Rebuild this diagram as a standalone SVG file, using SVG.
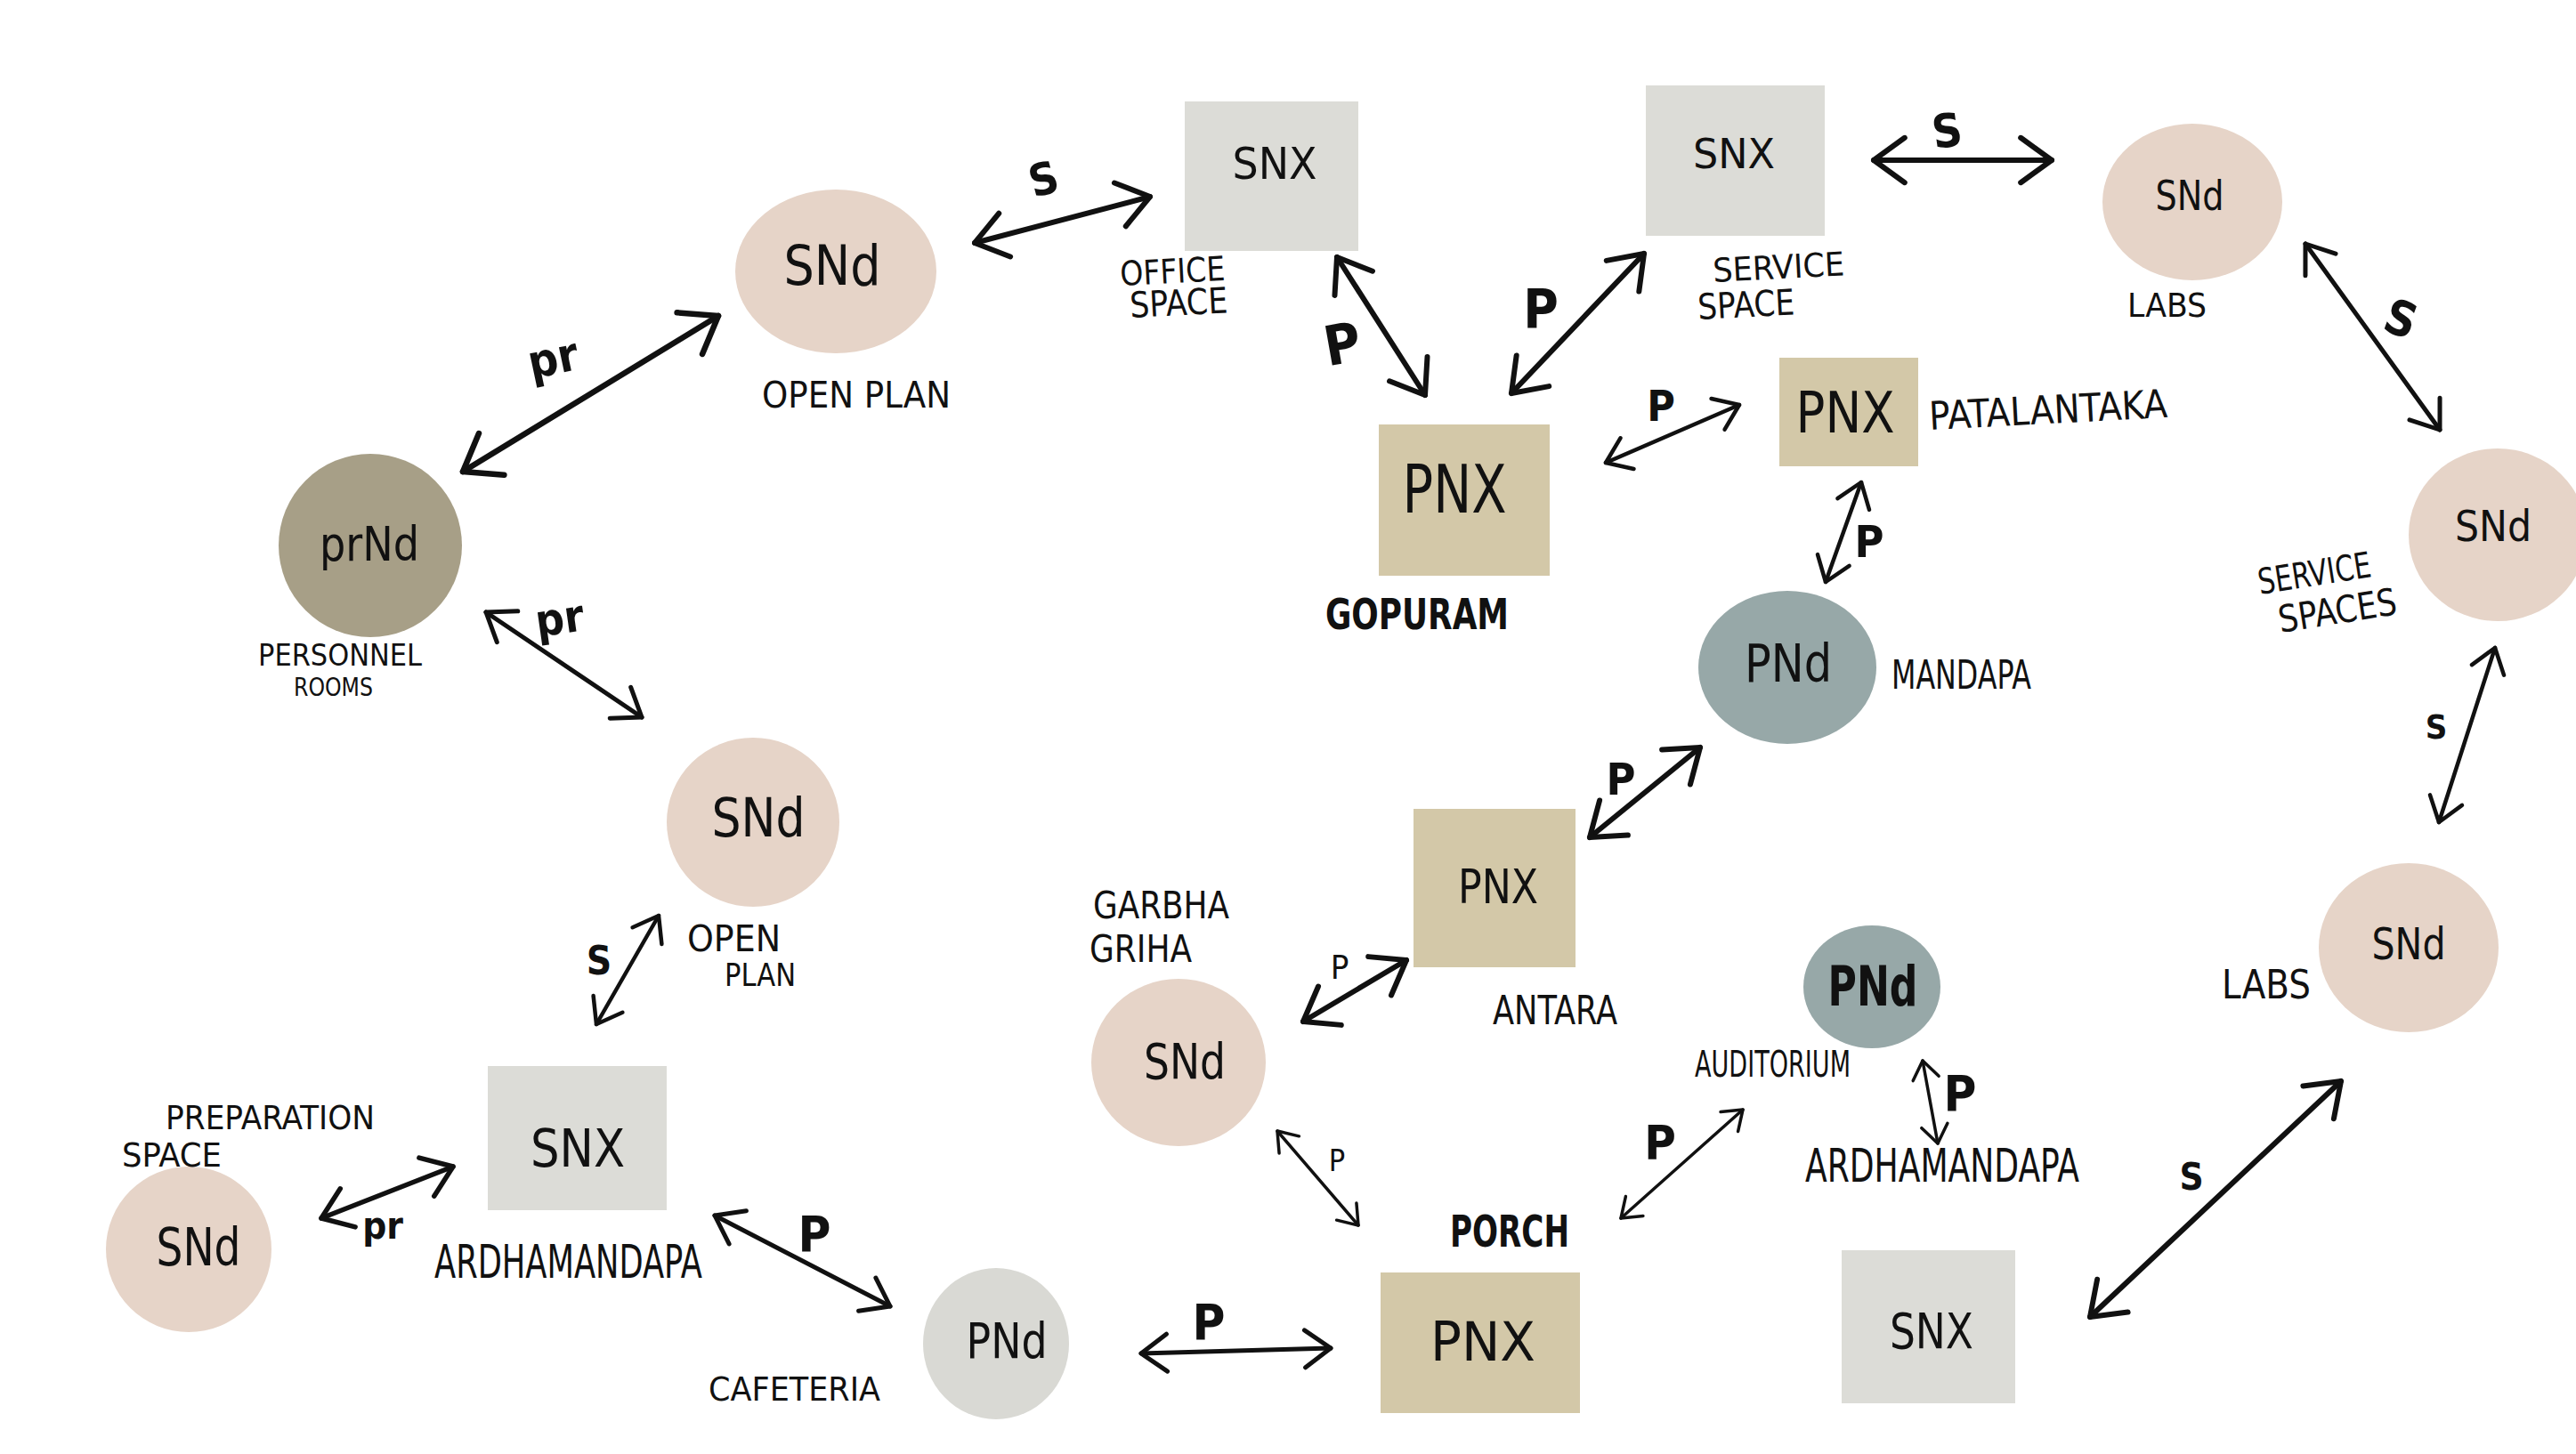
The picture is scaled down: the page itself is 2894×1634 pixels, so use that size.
<svg xmlns="http://www.w3.org/2000/svg" width="2894" height="1634" viewBox="0 0 2894 1634">
<style>
.sand{fill:#e6d4c8}
.olive{fill:#a79f87}
.grey{fill:#dcdcd7}
.tan{fill:#d3c8a8}
.blue{fill:#97a8a8}
.cafe{fill:#d9d9d4}
text{font-family:"Liberation Sans Narrow","DejaVu Sans Condensed","Liberation Sans",sans-serif;fill:#111}
.t{text-anchor:middle}
.l{text-anchor:start}
.b{font-weight:bold}
.c{stroke:#111;fill:none;stroke-linecap:round;marker-start:url(#ah);marker-end:url(#ah)}
</style>
<defs>
<marker id="ah" markerUnits="strokeWidth" markerWidth="14" markerHeight="14" refX="0" refY="0" orient="auto-start-reverse" overflow="visible">
<path d="M-5.8,-4.2 L0,0 L-5.8,4.2" fill="none" stroke="#111" stroke-width="1" stroke-linecap="round" stroke-linejoin="round"/>
</marker>
</defs>
<rect width="2894" height="1634" fill="#ffffff"/>

<g id="connectors">
<line class="c" x1="520" y1="530" x2="807" y2="355" stroke-width="6.5"/>
<line class="c" x1="546" y1="688" x2="721" y2="806" stroke-width="5"/>
<line class="c" x1="1095" y1="273" x2="1292" y2="221" stroke-width="6"/>
<line class="c" x1="1502" y1="289" x2="1601" y2="444" stroke-width="6"/>
<line class="c" x1="1698" y1="442" x2="1847" y2="285" stroke-width="6"/>
<line class="c" x1="2105" y1="180" x2="2305" y2="180" stroke-width="6"/>
<line class="c" x1="1804" y1="520" x2="1954" y2="455" stroke-width="4.5"/>
<line class="c" x1="2091" y1="542" x2="2051" y2="654" stroke-width="4.5"/>
<line class="c" x1="2590" y1="274" x2="2741" y2="483" stroke-width="5"/>
<line class="c" x1="2803" y1="728" x2="2740" y2="924" stroke-width="4.5"/>
<line class="c" x1="1786" y1="941" x2="1910" y2="840" stroke-width="6"/>
<line class="c" x1="1464" y1="1148" x2="1580" y2="1079" stroke-width="6"/>
<line class="c" x1="1435" y1="1271" x2="1526" y2="1377" stroke-width="3.5"/>
<line class="c" x1="1821" y1="1369" x2="1958" y2="1247" stroke-width="3.5"/>
<line class="c" x1="2160" y1="1192" x2="2177" y2="1285" stroke-width="3.5"/>
<line class="c" x1="1282" y1="1521" x2="1495" y2="1515" stroke-width="5"/>
<line class="c" x1="803" y1="1366" x2="1000" y2="1468" stroke-width="5"/>
<line class="c" x1="361" y1="1369" x2="509" y2="1311" stroke-width="5.5"/>
<line class="c" x1="740" y1="1029" x2="670" y2="1151" stroke-width="4.5"/>
<line class="c" x1="2348" y1="1480" x2="2630" y2="1215" stroke-width="6"/>
<text class="t b" x="625" y="420" font-size="52" transform="rotate(-12 625 420)">pr</text>
<text class="t b" x="631" y="712" font-size="50" transform="rotate(-8 631 712)">pr</text>
<text class="t b" x="1177" y="218" font-size="50" transform="rotate(-15 1177 218)">S</text>
<text class="t b" x="1512" y="408" font-size="62" transform="rotate(-10 1512 408)">P</text>
<text class="t b" x="1731" y="368" font-size="60">P</text>
<text class="t b" x="2190" y="165" font-size="52" transform="rotate(-8 2190 165)">S</text>
<text class="t b" x="1866" y="473" font-size="48">P</text>
<text class="t b" x="2100" y="626" font-size="50">P</text>
<text class="t b" x="2691" y="376" font-size="54" transform="rotate(20 2691 376)">S</text>
<text class="t b" x="2737" y="830" font-size="38">S</text>
<text class="t b" x="1821" y="893" font-size="50">P</text>
<text class="t" x="1505" y="1100" font-size="38">P</text>
<text class="t" x="1502" y="1316" font-size="34">P</text>
<text class="t b" x="1865" y="1303" font-size="54">P</text>
<text class="t b" x="2202" y="1248" font-size="56">P</text>
<text class="t b" x="1358" y="1505" font-size="56">P</text>
<text class="t b" x="915" y="1406" font-size="56">P</text>
<text class="t b" x="430" y="1392" font-size="42">pr</text>
<text class="t b" x="673" y="1095" font-size="44">S</text>
<text class="t b" x="2462" y="1337" font-size="42">S</text>
</g>

<g id="node-openplan-top">
<ellipse class="sand" cx="939" cy="305" rx="113" ry="92"/>
<text class="t" x="935" y="320" font-size="62" textLength="109" lengthAdjust="spacingAndGlyphs">SNd</text>
<text class="l" x="856" y="458" font-size="40" textLength="212" lengthAdjust="spacingAndGlyphs">OPEN PLAN</text>
</g>

<g id="node-personnel">
<ellipse class="olive" cx="416" cy="613" rx="103" ry="103"/>
<text class="t" x="415" y="630" font-size="54" textLength="112" lengthAdjust="spacingAndGlyphs">prNd</text>
<text class="l" x="290" y="748" font-size="33" textLength="184" lengthAdjust="spacingAndGlyphs">PERSONNEL</text>
<text class="l" x="330" y="782" font-size="28" textLength="89" lengthAdjust="spacingAndGlyphs">ROOMS</text>
</g>

<g id="node-office">
<rect class="grey" x="1331" y="114" width="195" height="168"/>
<text class="t" x="1432" y="201" font-size="50" textLength="95" lengthAdjust="spacingAndGlyphs">SNX</text>
<text class="l" x="1259" y="321" font-size="38" textLength="118" lengthAdjust="spacingAndGlyphs" transform="rotate(-3 1259 321)">OFFICE</text>
<text class="l" x="1270" y="357" font-size="40" textLength="110" lengthAdjust="spacingAndGlyphs" transform="rotate(-3 1270 357)">SPACE</text>
</g>

<g id="node-service-space">
<rect class="grey" x="1849" y="96" width="201" height="169"/>
<text class="t" x="1948" y="189" font-size="46" textLength="92" lengthAdjust="spacingAndGlyphs">SNX</text>
<text class="l" x="1925" y="317" font-size="37" textLength="148" lengthAdjust="spacingAndGlyphs" transform="rotate(-3 1925 317)">SERVICE</text>
<text class="l" x="1908" y="359" font-size="40" textLength="109" lengthAdjust="spacingAndGlyphs" transform="rotate(-3 1908 359)">SPACE</text>
</g>

<g id="node-labs-top">
<ellipse class="sand" cx="2463" cy="227" rx="101" ry="88"/>
<text class="t" x="2460" y="236" font-size="46" textLength="77" lengthAdjust="spacingAndGlyphs">SNd</text>
<text class="l" x="2390" y="356" font-size="38" textLength="89" lengthAdjust="spacingAndGlyphs">LABS</text>
</g>

<g id="node-gopuram">
<rect class="tan" x="1549" y="477" width="192" height="170"/>
<text class="t" x="1634" y="576" font-size="75" textLength="117" lengthAdjust="spacingAndGlyphs">PNX</text>
<text class="l b" x="1489" y="707" font-size="48" textLength="206" lengthAdjust="spacingAndGlyphs">GOPURAM</text>
</g>

<g id="node-patalantaka">
<rect class="tan" x="1999" y="402" width="156" height="122"/>
<text class="t" x="2073" y="486" font-size="64" textLength="111" lengthAdjust="spacingAndGlyphs">PNX</text>
<text class="l" x="2168" y="483" font-size="44" textLength="268" lengthAdjust="spacingAndGlyphs" transform="rotate(-3 2168 483)">PATALANTAKA</text>
</g>

<g id="node-mandapa">
<ellipse class="blue" cx="2008" cy="750" rx="100" ry="86"/>
<text class="t" x="2009" y="766" font-size="58" textLength="98" lengthAdjust="spacingAndGlyphs">PNd</text>
<text class="l" x="2125" y="774" font-size="44" textLength="157" lengthAdjust="spacingAndGlyphs">MANDAPA</text>
</g>

<g id="node-service-spaces">
<ellipse class="sand" cx="2806" cy="601" rx="100" ry="97"/>
<text class="t" x="2801" y="608" font-size="48" textLength="86" lengthAdjust="spacingAndGlyphs">SNd</text>
<text class="l" x="2539" y="668" font-size="40" textLength="128" lengthAdjust="spacingAndGlyphs" transform="rotate(-9 2539 668)">SERVICE</text>
<text class="l" x="2562" y="711" font-size="42" textLength="134" lengthAdjust="spacingAndGlyphs" transform="rotate(-9 2562 711)">SPACES</text>
</g>

<g id="node-openplan-mid">
<ellipse class="sand" cx="846" cy="924" rx="97" ry="95"/>
<text class="t" x="852" y="940" font-size="60" textLength="105" lengthAdjust="spacingAndGlyphs">SNd</text>
<text class="l" x="772" y="1069" font-size="40" textLength="105" lengthAdjust="spacingAndGlyphs">OPEN</text>
<text class="l" x="814" y="1108" font-size="36" textLength="80" lengthAdjust="spacingAndGlyphs">PLAN</text>
</g>

<g id="node-ardhamandapa-left">
<rect class="grey" x="548" y="1198" width="201" height="162"/>
<text class="t" x="649" y="1311" font-size="58" textLength="106" lengthAdjust="spacingAndGlyphs">SNX</text>
<text class="l" x="488" y="1436" font-size="52" textLength="301" lengthAdjust="spacingAndGlyphs">ARDHAMANDAPA</text>
</g>

<g id="node-preparation">
<ellipse class="sand" cx="212" cy="1404" rx="93" ry="93"/>
<text class="t" x="223" y="1422" font-size="58" textLength="95" lengthAdjust="spacingAndGlyphs">SNd</text>
<text class="l" x="186" y="1269" font-size="38" textLength="235" lengthAdjust="spacingAndGlyphs">PREPARATION</text>
<text class="l" x="137" y="1311" font-size="38" textLength="112" lengthAdjust="spacingAndGlyphs">SPACE</text>
</g>

<g id="node-cafeteria">
<ellipse class="cafe" cx="1119" cy="1510" rx="82" ry="85"/>
<text class="t" x="1131" y="1526" font-size="55" textLength="91" lengthAdjust="spacingAndGlyphs">PNd</text>
<text class="l" x="796" y="1574" font-size="37" textLength="193" lengthAdjust="spacingAndGlyphs">CAFETERIA</text>
</g>

<g id="node-antara">
<rect class="tan" x="1588" y="909" width="182" height="178"/>
<text class="t" x="1683" y="1015" font-size="54" textLength="90" lengthAdjust="spacingAndGlyphs">PNX</text>
<text class="l" x="1677" y="1151" font-size="44" textLength="140" lengthAdjust="spacingAndGlyphs">ANTARA</text>
</g>

<g id="node-garbha">
<ellipse class="sand" cx="1324" cy="1194" rx="98" ry="94"/>
<text class="t" x="1331" y="1212" font-size="55" textLength="92" lengthAdjust="spacingAndGlyphs">SNd</text>
<text class="l" x="1228" y="1032" font-size="42" textLength="153" lengthAdjust="spacingAndGlyphs">GARBHA</text>
<text class="l" x="1224" y="1081" font-size="42" textLength="115" lengthAdjust="spacingAndGlyphs">GRIHA</text>
</g>

<g id="node-porch">
<rect class="tan" x="1551" y="1430" width="224" height="158"/>
<text class="t" x="1666" y="1529" font-size="60" textLength="118" lengthAdjust="spacingAndGlyphs">PNX</text>
<text class="l b" x="1629" y="1401" font-size="50" textLength="134" lengthAdjust="spacingAndGlyphs">PORCH</text>
</g>

<g id="node-auditorium">
<ellipse class="blue" cx="2103" cy="1109" rx="77" ry="69"/>
<text class="t b" x="2104" y="1130" font-size="62" textLength="101" lengthAdjust="spacingAndGlyphs">PNd</text>
<text class="l" x="1904" y="1210" font-size="40" textLength="175" lengthAdjust="spacingAndGlyphs">AUDITORIUM</text>
</g>

<g id="node-ardhamandapa-right">
<text class="l" x="2028" y="1328" font-size="52" textLength="308" lengthAdjust="spacingAndGlyphs">ARDHAMANDAPA</text>
</g>

<g id="node-snx-bottom">
<rect class="grey" x="2069" y="1405" width="195" height="172"/>
<text class="t" x="2170" y="1515" font-size="55" textLength="94" lengthAdjust="spacingAndGlyphs">SNX</text>
</g>

<g id="node-labs-bottom">
<ellipse class="sand" cx="2706" cy="1065" rx="101" ry="95"/>
<text class="t" x="2706" y="1078" font-size="50" textLength="83" lengthAdjust="spacingAndGlyphs">SNd</text>
<text class="l" x="2496" y="1122" font-size="44" textLength="100" lengthAdjust="spacingAndGlyphs">LABS</text>
</g>
</svg>
